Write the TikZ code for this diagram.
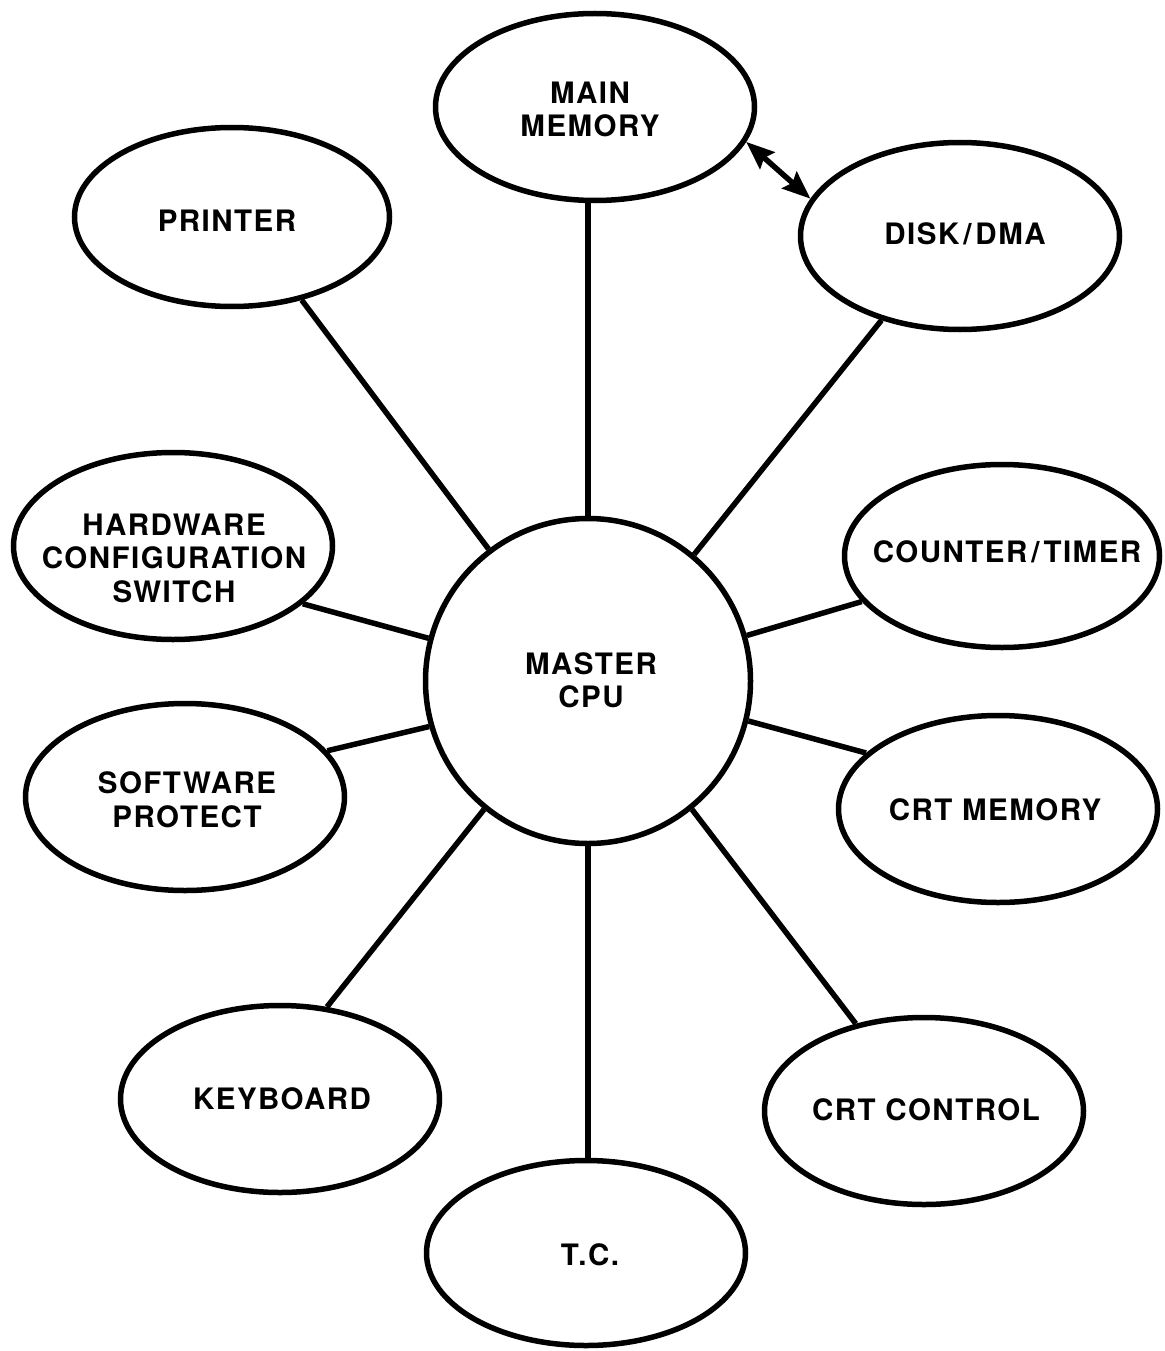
\documentclass[tikz,border=0pt]{standalone}
\usepackage{fontspec}
\setmainfont{TeX Gyre Heros}[LetterSpace=5]
\usetikzlibrary{shapes.geometric,arrows.meta}
\tikzset{dtip/.tip={Stealth[length=28pt,width=22pt,inset=4pt]}}
\newcommand{\slsh}{\hspace{4pt}/\hspace{4pt}}
\begin{document}
\begin{tikzpicture}[x=1pt,y=-1pt,
  blob/.style={draw,ellipse,line width=5.5pt,minimum width=319pt,minimum height=187pt,inner sep=0pt},
  cpustyle/.style={draw,circle,line width=5.5pt,minimum size=325pt,inner sep=0pt},
  lbl/.style={inner sep=0pt,align=center,font=\fontsize{29.5}{33.5}\selectfont\bfseries},
  link/.style={line width=5.5pt}]
\fill[white] (0,0) rectangle (1164,1351);
\useasboundingbox (0,0) rectangle (1164,1351);

\node[cpustyle] (cpu) at (588,681) {};
\node[blob] (mm) at (595,107) {};
\node[blob,minimum width=315pt,minimum height=179pt] (pr) at (232,217) {};
\node[blob] (dk) at (960,236) {};
\node[blob] (hw) at (173,546) {};
\node[blob,minimum width=315pt,minimum height=183pt] (ct) at (1002,556) {};
\node[blob] (sp) at (185,797) {};
\node[blob] (cm) at (998,809) {};
\node[blob] (kb) at (280,1099) {};
\node[blob] (cc) at (924,1111) {};
\node[blob,minimum height=185pt] (tc) at (586,1253) {};

\node[lbl] (cput) at (591,680) {MASTER\\CPU};
\node[lbl] (mmt) at (590,109.5) {MAIN\\MEMORY};
\node[lbl] (prt) at (227,221) {PRINTER};
\node[lbl] (dkt) at (965,234) {DISK\slsh DMA};
\node[lbl] (hwt) at (174,558) {HARDWARE\\CONFIGURATION\\SWITCH};
\node[lbl] (ctt) at (1007,552) {COUNTER\slsh TIMER};
\node[lbl] (spt) at (187,799.5) {SOFTWARE\\PROTECT};
\node[lbl] (cmt) at (995,810) {CRT MEMORY};
\node[lbl] (kbt) at (282,1098.5) {KEYBOARD};
\node[lbl] (cct) at (926,1110) {CRT CONTROL};
\node[lbl] (tct) at (590,1255) {T.C.};

\draw[link] (cpu.north) -- (cpu.north |- mm.south);
\draw[link] (cpu.south) -- (cpu.south |- tc.north);
\draw[link] (cpu.127.8) -- (pr.-50.5);
\draw[link] (cpu.50.6) -- (dk.-133.6);
\draw[link] (cpu.165) -- (hw.-24.9);
\draw[link] (cpu.16.7) -- (ct.-162);
\draw[link] (cpu.-164.6) -- (sp.18);
\draw[link] (cpu.-14.7) -- (cm.157.1);
\draw[link] (cpu.-129) -- (kb.63.4);
\draw[link] (cpu.-51.5) -- (cc.128);
\draw[link,dtip-dtip] (mm.-13) -- (dk.166.7);
\end{tikzpicture}
\end{document}
